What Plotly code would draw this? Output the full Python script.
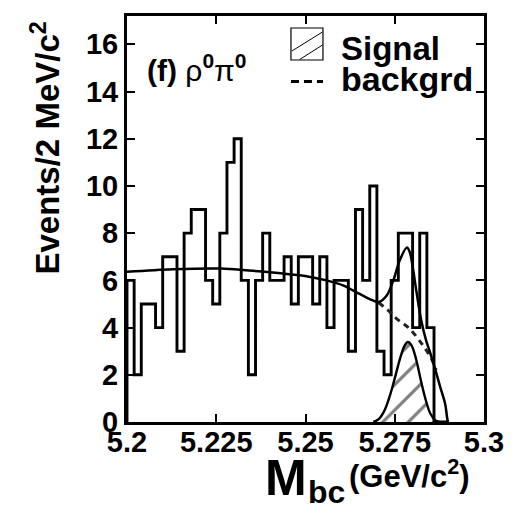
import plotly.graph_objects as go

# ---- data ----
bin_start = 5.200
bin_width = 0.002
counts = [6, 2, 5, 5, 4, 7, 7, 3, 8, 9, 9, 6, 5, 8, 11, 12, 6, 2, 6, 8,
          6, 6, 7, 5, 7, 7, 5, 7, 4, 6, 6, 3, 9, 6, 10, 3, 2, 6, 8, 8,
          4, 8, 4, 0, 0]

total_x = [5.2000, 5.2128, 5.2264, 5.2332, 5.2423, 5.2499, 5.2559, 5.2605,
           5.2650, 5.2687, 5.2705, 5.2728, 5.2746, 5.2764, 5.2784, 5.2792,
           5.2800, 5.2811, 5.2823, 5.2837, 5.2850, 5.2864, 5.2877, 5.2891,
           5.2898, 5.2900]
total_y = [6.36, 6.47, 6.50, 6.43, 6.31, 6.19, 6.00, 5.79,
           5.44, 5.16, 5.08, 5.37, 6.00, 6.85, 7.39, 7.20,
           6.60, 5.50, 4.40, 3.50, 2.90, 2.20, 1.50, 0.78,
           0.07, 0.00]

bkg_x = [5.2705, 5.2730, 5.2755, 5.2791, 5.2832, 5.2855, 5.2866]
bkg_y = [5.05, 4.75, 4.38, 3.96, 3.18, 2.61, 2.20]

sig_x = [5.2690, 5.2705, 5.2720, 5.2735, 5.2750, 5.2765, 5.2778, 5.2787,
         5.2797, 5.2810, 5.2823, 5.2837, 5.2850, 5.2865, 5.2875]
sig_y = [0.00, 0.12, 0.45, 1.05, 1.85, 2.70, 3.25, 3.39,
         3.25, 2.65, 1.77, 0.92, 0.35, 0.05, 0.00]

x_tickvals = [5.2, 5.225, 5.25, 5.275, 5.3]
x_ticktext = ["5.2", "5.225", "5.25", "5.275", "5.3"]
y_tickvals = [0, 2, 4, 6, 8, 10, 12, 14, 16]

# ---- layout geometry (pixels) ----
W, H = 516, 510
ML, MR, MT, MB = 127, 21, 16, 88
PW, PH = W - ML - MR, H - MT - MB


def px_x(p):
    return (p - ML) / PW


def px_y(p):
    return (H - MB - p) / PH


FONT = "Liberation Sans, Arial, Helvetica, sans-serif"

# histogram step outline
edges = [bin_start + bin_width * i for i in range(len(counts) + 1)]
hx = [edges[0]] + edges[:-1] + [edges[-1]]
hy = [0] + counts + [counts[-1]]

fig = go.Figure()

fig.add_trace(go.Scatter(
    x=sig_x, y=sig_y, mode="lines", fill="tozeroy",
    fillcolor="white",
    fillpattern=dict(shape="/", fgcolor="black", bgcolor="white",
                     size=18, solidity=0.18),
    line=dict(color="black", width=2.4, shape="spline", smoothing=1.0),
    showlegend=False, hoverinfo="skip"))

fig.add_trace(go.Scatter(
    x=hx, y=hy, mode="lines", line=dict(color="black", width=2.9, shape="hv"),
    showlegend=False, hoverinfo="skip"))

fig.add_trace(go.Scatter(
    x=bkg_x, y=bkg_y, mode="lines",
    line=dict(color="#222222", width=3, dash="6px,5px", shape="spline"),
    showlegend=False, hoverinfo="skip"))

fig.add_trace(go.Scatter(
    x=total_x, y=total_y, mode="lines",
    line=dict(color="black", width=2.5, shape="spline", smoothing=0.9),
    showlegend=False, hoverinfo="skip"))

axis_common = dict(showgrid=False, zeroline=False, showline=True,
                   linecolor="black", linewidth=3, mirror="ticks",
                   ticks="inside", ticklen=8, tickwidth=1.5,
                   tickcolor="black", layer="above traces",
                   tickfont=dict(family=FONT, size=29, color="black",
                                 weight="bold"))

fig.update_xaxes(range=[5.2, 5.3], tickvals=x_tickvals, ticktext=x_ticktext,
                 ticklabelstandoff=-8, **axis_common)
fig.update_yaxes(range=[0, 17.2], tickvals=y_tickvals, **axis_common)

ann = []
ann.append(dict(text="<b>Events/2 MeV/c<sup>2</sup></b>", textangle=-90,
                x=px_x(43), y=px_y(148), xref="paper", yref="paper",
                xanchor="center", yanchor="middle", showarrow=False,
                font=dict(family=FONT, size=33, color="black")))
ann.append(dict(text="<b>M</b>", x=px_x(291), y=px_y(478), xref="paper",
                yref="paper", xanchor="center", yanchor="middle",
                showarrow=False, font=dict(family=FONT, size=50, color="black")))
ann.append(dict(text="<b>bc</b>", x=px_x(311), y=px_y(492), xref="paper",
                yref="paper", xanchor="left", yanchor="middle",
                showarrow=False, font=dict(family=FONT, size=32, color="black")))
ann.append(dict(text="<b>(GeV/c<sup>2</sup>)</b>", x=px_x(354), y=px_y(474),
                xref="paper", yref="paper", xanchor="left", yanchor="middle",
                showarrow=False, font=dict(family=FONT, size=31, color="black")))
ann.append(dict(text="<b>(f)</b> ρ<sup><b>0</b></sup>π<sup><b>0</b></sup>",
                x=px_x(146), y=px_y(68), xref="paper", yref="paper",
                xanchor="left", yanchor="middle", showarrow=False,
                font=dict(family=FONT, size=30, color="black")))
ann.append(dict(text="<b>Signal</b>", x=px_x(346), y=px_y(48), xref="paper",
                yref="paper", xanchor="left", yanchor="middle",
                showarrow=False, font=dict(family=FONT, size=33, color="black")))
ann.append(dict(text="<b>backgrd</b>", x=px_x(346), y=px_y(79), xref="paper",
                yref="paper", xanchor="left", yanchor="middle",
                showarrow=False, font=dict(family=FONT, size=34, color="black")))

shapes = []
shapes.append(dict(type="rect", xref="paper", yref="paper",
                   x0=px_x(296), x1=px_x(329), y0=px_y(60), y1=px_y(28),
                   line=dict(color="black", width=1.2), fillcolor="white"))
shapes.append(dict(type="line", xref="paper", yref="paper",
                   x0=px_x(297), y0=px_y(51), x1=px_x(328.5), y1=px_y(32),
                   line=dict(color="black", width=1)))
shapes.append(dict(type="line", xref="paper", yref="paper",
                   x0=px_x(305), y0=px_y(59.5), x1=px_x(328.5), y1=px_y(45),
                   line=dict(color="black", width=1)))
shapes.append(dict(type="line", xref="paper", yref="paper",
                   x0=px_x(296), y0=px_y(81.5), x1=px_x(329), y1=px_y(81.5),
                   line=dict(color="black", width=3, dash="8px,5px")))

fig.update_layout(width=W, height=H, margin=dict(l=ML, r=MR, t=MT, b=MB),
                  paper_bgcolor="white", plot_bgcolor="white",
                  annotations=ann, shapes=shapes, showlegend=False)

fig.write_html("out.html")
